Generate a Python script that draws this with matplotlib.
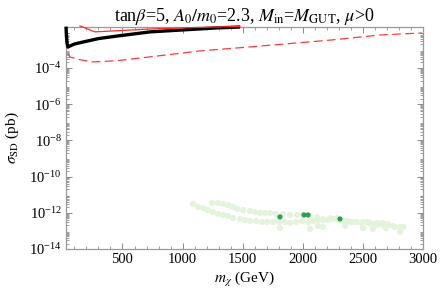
import numpy as np
import matplotlib
matplotlib.use("Agg")
import matplotlib.pyplot as plt
from matplotlib.ticker import LogLocator, FixedLocator, NullFormatter, MultipleLocator

plt.rcParams['font.family'] = ['Liberation Serif', 'DejaVu Serif']
plt.rcParams['mathtext.fontset'] = 'stix'

# Black thick curve (m_chi [GeV], log10 sigma [pb])
black_m = [30, 33, 38, 45, 60, 100, 171, 300, 454, 729, 1003, 1286, 1478]
black_log = [-1.72, -2.2, -2.6, -2.84, -2.80, -2.68, -2.57, -2.38, -2.24, -2.01, -1.90, -1.79, -1.74]

# Red solid curve
red_m = [146, 271, 500, 729, 1145, 1478]
red_log = [-1.68, -2.01, -1.93, -1.85, -1.76, -1.71]

# Red dashed curve
dash_m = [38, 42, 46, 52, 60, 150, 250, 454, 729, 1145, 1561, 2251, 2643, 2991]
dash_log = [-1.75, -2.2, -2.7, -3.2, -3.39, -3.55, -3.67, -3.60, -3.39, -3.06, -2.84, -2.45, -2.18, -2.07]

# Light green scan points
light_m = [1245, 1295, 1336, 1378, 1419, 1453, 1503, 1561, 1602, 1644, 1686, 1727, 1777,
           1835, 1894, 1952, 2002, 2060, 2118, 2168, 2226, 2285, 2326, 2368, 2410, 2451,
           2501, 2559, 2618, 2667, 2709, 2751,
           1087, 1128, 1170, 1211, 1253, 1295, 1336, 1378, 1419, 1478, 1519, 1561, 1611,
           1661, 1702, 1752, 1802, 1852, 1894, 1944, 1994, 2044, 2085, 2127, 2168, 2210,
           2251, 2293, 2343, 2393, 2443, 2493, 2534, 2576, 2618, 2667, 2709, 2767, 2809, 2834,
           1810, 2060, 2168, 2127, 2351, 2501, 2584, 2809, 2692]
light_log = [-11.46, -11.46, -11.51, -11.57, -11.68, -11.79, -11.85, -11.90, -11.96, -12.01,
             -12.01, -12.01, -12.07, -12.07, -12.12, -12.12, -12.12, -12.18, -12.23, -12.34,
             -12.29, -12.29, -12.40, -12.45, -12.51, -12.51, -12.51, -12.56, -12.56, -12.56,
             -12.67, -12.73,
             -11.51, -11.68, -11.74, -11.85, -11.96, -12.07, -12.12, -12.18, -12.29, -12.34,
             -12.40, -12.45, -12.45, -12.51, -12.51, -12.51, -12.51, -12.51, -12.56, -12.51,
             -12.45, -12.51, -12.45, -12.40, -12.40, -12.40, -12.34, -12.40, -12.45, -12.51,
             -12.51, -12.56, -12.51, -12.62, -12.67, -12.67, -12.62, -12.78, -12.78, -12.78,
             -12.84, -12.90, -12.78, -12.73, -12.73, -12.84, -12.90, -13.06, -12.84]

# Dark green points
dark_m = [1810, 2010, 2043, 2309]
dark_log = [-12.23, -12.12, -12.12, -12.34]

fig = plt.figure(figsize=(4.41, 2.97), dpi=100)
ax = fig.add_axes([66/441, 1-249/297, (423-66)/441, (249-27)/297])

ax.set_yscale('log')
ax.set_xlim(30, 3000)
ax.set_ylim(1e-14, 10**-1.74)

ax.scatter(light_m, 10**np.array(light_log), s=20, color='#e4f4dc', edgecolors='none', zorder=2)
ax.scatter(dark_m, 10**np.array(dark_log), s=14, color='#2e9e50', edgecolors='none', zorder=3)

ax.plot(dash_m, 10**np.array(dash_log), color='#ff3b3b', lw=0.9, dashes=(7, 3.5), zorder=4, clip_on=False)
ax.plot(black_m, 10**np.array(black_log), color='black', lw=2.4, zorder=5, clip_on=False,
        solid_capstyle='butt')
ax.plot(red_m, 10**np.array(red_log), color='#ff2a2a', lw=0.9, zorder=6, clip_on=False)

for s in ax.spines.values():
    s.set_color('#999999')
    s.set_linewidth(0.9)

ax.xaxis.set_major_locator(FixedLocator([500, 1000, 1500, 2000, 2500, 3000]))
ax.xaxis.set_minor_locator(MultipleLocator(100))
ax.yaxis.set_major_locator(FixedLocator([1e-14, 1e-12, 1e-10, 1e-8, 1e-6, 1e-4]))
ax.yaxis.set_minor_locator(LogLocator(base=10, subs=np.arange(2, 10), numticks=30))
ax.yaxis.set_minor_formatter(NullFormatter())

ax.tick_params(which='both', direction='in', top=True, right=True, color='#777777',
               labelsize=10.5, pad=3)
ax.tick_params(which='major', length=4, width=0.6)
ax.tick_params(which='minor', length=2, width=0.5)

ax.set_xlabel(r'$m_\chi$ (GeV)', fontsize=11, labelpad=3)
ax.set_ylabel(r'$\sigma_{\rm SD}$ (pb)', fontsize=11, labelpad=6)
ax.set_title(r'tan$\beta$=5, $A_0/m_0$=2.3, $M_{\rm in}$=$M_{\rm GUT}$, $\mu$>0', fontsize=13, pad=4)

fig.savefig('out.png', dpi=100)
